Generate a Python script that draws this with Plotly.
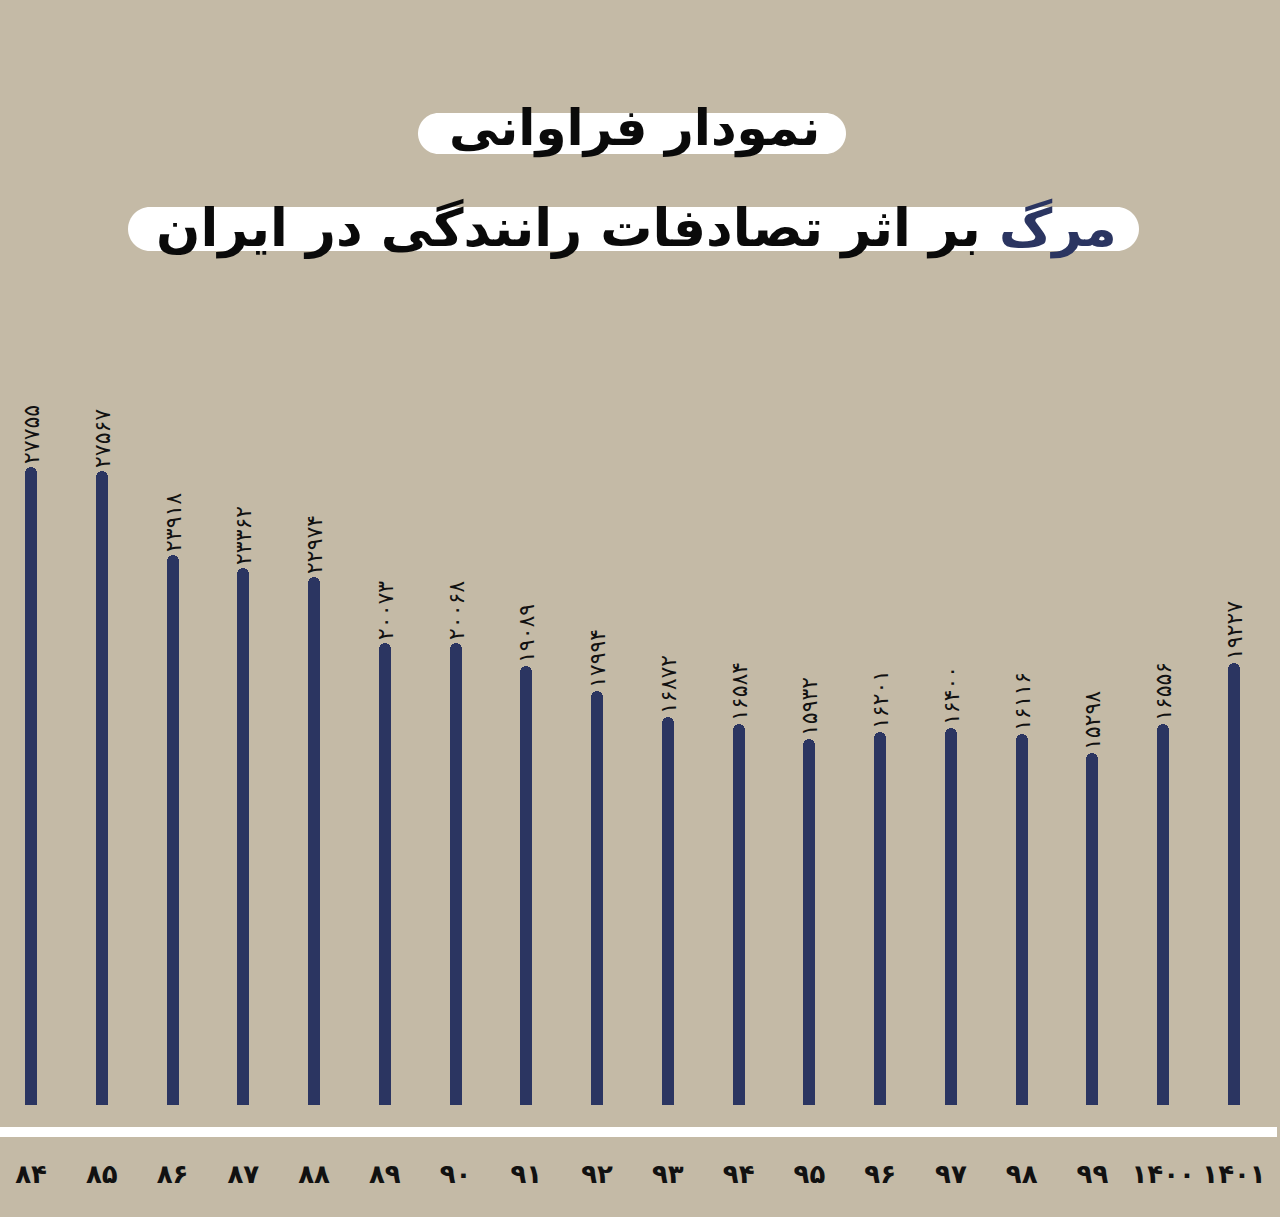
import plotly.graph_objects as go

# ---- data (Persian solar years, road-traffic deaths in Iran) ----
years = ["۸۴", "۸۵", "۸۶", "۸۷", "۸۸", "۸۹", "۹۰", "۹۱", "۹۲", "۹۳",
         "۹۴", "۹۵", "۹۶", "۹۷", "۹۸", "۹۹", "۱۴۰۰", "۱۴۰۱"]
deaths = [27755, 27567, 23918, 23362, 22974, 20073, 20068, 19089, 17994, 16872,
          16584, 15932, 16201, 16400, 16116, 15298, 16556, 19227]

title_line1 = "نمودار فراوانی"
title_word_hl = "مرگ"
title_line2_rest = " بر اثر تصادفات رانندگی در ایران"

FA_DIGITS = str.maketrans("0123456789", "۰۱۲۳۴۵۶۷۸۹")
value_labels = [str(v).translate(FA_DIGITS) for v in deaths]

# ---- style ----
BG = "#c4baa6"
NAVY = "#2b3561"
W, H = 1280, 1217
MT, MB = 400, 112
PH = H - MT - MB  # plot height in px


def py(ypx):
    """pixel y (from top) -> paper y"""
    return (H - MB - ypx) / PH


def px(xpx):
    return xpx / W


def pill(x0, y0, x1, y1):
    r = (y1 - y0) / 2
    k = 0.5523 * r

    def P(x, y):
        return f"{px(x):.5f},{py(y):.5f}"
    d = (f"M {P(x0 + r, y0)} L {P(x1 - r, y0)} "
         f"C {P(x1 - r + k, y0)} {P(x1, y0 + r - k)} {P(x1, y0 + r)} "
         f"C {P(x1, y0 + r + k)} {P(x1 - r + k, y1)} {P(x1 - r, y1)} "
         f"L {P(x0 + r, y1)} "
         f"C {P(x0 + r - k, y1)} {P(x0, y0 + r + k)} {P(x0, y0 + r)} "
         f"C {P(x0, y0 + r - k)} {P(x0 + r - k, y0)} {P(x0 + r, y0)} Z")
    return d


fig = go.Figure()
fig.add_trace(go.Bar(
    x=years,
    y=deaths,
    marker=dict(color=NAVY, line=dict(width=0), cornerradius="50%"),
    width=0.17,
    text=value_labels,
    textposition="outside",
    textangle=-90,
    constraintext="none",
    cliponaxis=False,
    textfont=dict(family="DejaVu Sans", size=22, color="#111111"),
    hoverinfo="skip",
))

# pixels per unit on x: centres at 31 .. 1234
step = (1234 - 31) / 17
x_left = -31 / step
x_right = 17 + (W - 1234) / step

fig.update_layout(
    width=W, height=H,
    paper_bgcolor=BG, plot_bgcolor=BG,
    margin=dict(l=0, r=0, t=MT, b=MB, pad=0),
    showlegend=False,
    bargap=0,
    xaxis=dict(
        type="category",
        range=[x_left, x_right],
        showgrid=False, zeroline=False, showline=False,
        ticks="", ticklabelstandoff=51, tickangle=0,
        tickfont=dict(family="DejaVu Sans", size=26, color="#111111", weight="bold"),
    ),
    yaxis=dict(
        range=[0, PH / 0.023],
        visible=False, showgrid=False, zeroline=False,
    ),
    shapes=[
        # white baseline band
        dict(type="line", xref="paper", yref="paper",
             x0=0, x1=px(1277), y0=py(1132), y1=py(1132),
             line=dict(color="white", width=10), layer="below"),
        # title pills
        dict(type="path", xref="paper", yref="paper", path=pill(418, 113, 846, 154),
             fillcolor="white", line=dict(width=0), layer="below"),
        dict(type="path", xref="paper", yref="paper", path=pill(128, 207, 1139, 251),
             fillcolor="white", line=dict(width=0), layer="below"),
    ],
    annotations=[
        dict(xref="paper", yref="paper", x=px(634), y=py(128),
             text=title_line1, showarrow=False, xanchor="center", yanchor="middle",
             font=dict(family="DejaVu Sans", size=50, color="#0a0a0a", weight="bold")),
        dict(xref="paper", yref="paper", x=px(636), y=py(228),
             text=f"<span style='color:{NAVY}'>{title_word_hl}</span>{title_line2_rest}",
             showarrow=False, xanchor="center", yanchor="middle",
             font=dict(family="DejaVu Sans", size=52, color="#0a0a0a", weight="bold")),
    ],
)

fig.write_html(
    "out.html",
    config={"displayModeBar": False},
    post_script="document.body.style.margin='0';document.body.style.background='%s';"
                "window.dispatchEvent(new Event('resize'));" % BG,
)
